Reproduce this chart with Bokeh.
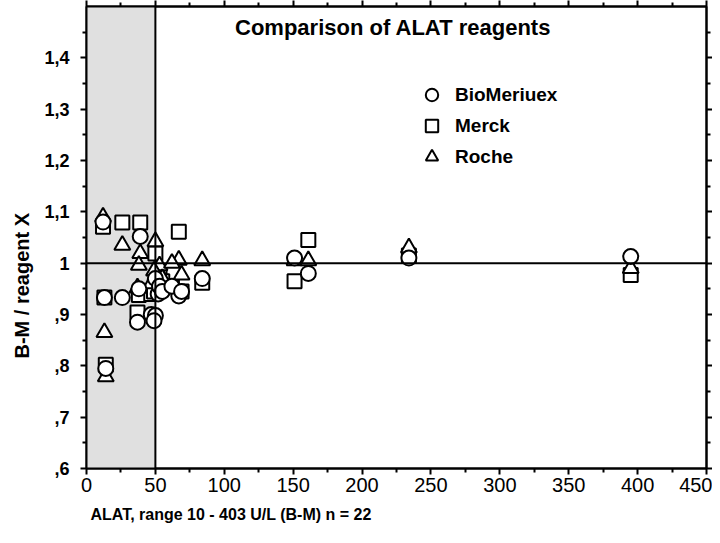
import math
from bokeh.plotting import figure
from bokeh.models import (ColumnDataSource, Range1d, LinearAxis, FixedTicker, Span,
                          BoxAnnotation, Label, Legend, LegendItem, Title)
from bokeh.embed import file_html
from bokeh.resources import INLINE

# ---- data ----
ALAT = [12, 13, 14, 26, 39, 37, 38, 50, 47, 50, 52, 53, 49, 55, 67, 62, 69, 84, 151, 161, 234, 395]
BIOMERIEUX = [1.080, 0.933, 0.795, 0.933, 1.052, 0.885, 0.950, 0.970, 0.900, 0.898, 0.940, 0.955,
              0.888, 0.945, 0.936, 0.955, 0.945, 0.970, 1.010, 0.980, 1.010, 1.013]
MERCK = [1.071, 0.933, 0.802, 1.079, 1.079, 0.904, 0.938, 1.019, 0.940, 0.950, 0.960, 0.975,
         0.945, 0.965, 1.061, 0.955, 0.945, 0.962, 0.965, 1.045, 1.015, 0.977]
ROCHE = [1.090, 0.865, 0.779, 1.035, 1.019, 0.952, 0.996, 1.042, 0.960, 0.975, 0.985, 0.995,
         0.985, 0.970, 1.006, 1.000, 0.977, 1.005, 1.005, 1.005, 1.030, 0.990]

SERIES_NAMES = ["BioMeriuex", "Merck", "Roche"]
X_TICKS = [0, 50, 100, 150, 200, 250, 300, 350, 400, 450]
Y_TICKS = [0.6, 0.7, 0.8, 0.9, 1.0, 1.1, 1.2, 1.3, 1.4]
Y_TICK_LABELS = [",6", ",7", ",8", ",9", "1", "1,1", "1,2", "1,3", "1,4"]
REFERENCE_RATIO = 1.0
LOW_RANGE_LIMIT = 50
TITLE = "Comparison of ALAT reagents"
X_TITLE = "ALAT, range 10 - 403 U/L (B-M) n = 22"
Y_TITLE = "B-M / reagent X"

FONT = "Liberation Sans"

src = ColumnDataSource(dict(alat=ALAT, bio=BIOMERIEUX, merck=MERCK, roche=ROCHE))

p = figure(width=712, height=535, output_backend="svg", toolbar_location=None,
           x_range=Range1d(0, 450), y_range=Range1d(0.6, 1.5),
           min_border_left=86, min_border_right=6, min_border_top=6, min_border_bottom=67,
           x_axis_location=None, y_axis_location=None)
p.xgrid.visible = False
p.ygrid.visible = False
p.outline_line_color = "black"
p.outline_line_width = 2
p.background_fill_color = "white"
p.border_fill_color = "white"

x_minor = [X_TICKS[i] + (X_TICKS[i + 1] - X_TICKS[i]) / 2 for i in range(len(X_TICKS) - 1)]
y_minor = [round(Y_TICKS[i] + (Y_TICKS[i + 1] - Y_TICKS[i]) / 2, 3) for i in range(len(Y_TICKS) - 1)]
y_minor = y_minor + [1.45]


def style_axis(ax, label_size, bold):
    ax.axis_line_color = "black"
    ax.axis_line_width = 2
    ax.major_tick_line_color = "black"
    ax.major_tick_line_width = 2
    ax.minor_tick_line_color = "black"
    ax.minor_tick_line_width = 2
    ax.major_tick_out = 6
    ax.major_tick_in = 0
    ax.minor_tick_out = 4
    ax.minor_tick_in = 0
    ax.major_label_text_font = FONT
    ax.major_label_text_font_size = label_size
    ax.major_label_text_font_style = "bold" if bold else "normal"
    ax.major_label_text_color = "black"


xb = LinearAxis(ticker=FixedTicker(ticks=X_TICKS, minor_ticks=x_minor))
style_axis(xb, "20px", False)
xb.major_label_standoff = 3
p.add_layout(xb, "below")

xt = LinearAxis(ticker=FixedTicker(ticks=X_TICKS, minor_ticks=x_minor))
style_axis(xt, "20px", False)
xt.major_label_overrides = {t: "" for t in X_TICKS}
xt.major_label_standoff = 0
p.add_layout(xt, "above")

yl = LinearAxis(ticker=FixedTicker(ticks=Y_TICKS, minor_ticks=y_minor))
style_axis(yl, "18px", True)
yl.major_label_overrides = dict(zip(Y_TICKS, Y_TICK_LABELS))
yl.major_label_standoff = 11
p.add_layout(yl, "left")

yr = LinearAxis(ticker=FixedTicker(ticks=Y_TICKS, minor_ticks=y_minor))
style_axis(yr, "18px", True)
yr.major_label_overrides = {t: "" for t in Y_TICKS}
yr.major_label_standoff = 0
p.add_layout(yr, "right")

# shaded low range
p.add_layout(BoxAnnotation(left=0, right=LOW_RANGE_LIMIT, fill_color="#e0e0e0", fill_alpha=1.0,
                           line_color=None, level="underlay"))

r_sq = p.scatter(x="alat", y="merck", source=src, marker="square", size=14,
                 line_color="black", line_width=2, fill_color="white")
r_tr = p.scatter(x="alat", y="roche", source=src, marker="triangle", size=16,
                 line_color="black", line_width=2, fill_color="white")
r_ci = p.scatter(x="alat", y="bio", source=src, marker="circle", size=15,
                 line_color="black", line_width=2, fill_color="white")

p.add_layout(Span(location=LOW_RANGE_LIMIT, dimension="height", line_color="black", line_width=2))
p.add_layout(Span(location=REFERENCE_RATIO, dimension="width", line_color="black", line_width=2))

legend = Legend(items=[LegendItem(label=SERIES_NAMES[0], renderers=[r_ci]),
                       LegendItem(label=SERIES_NAMES[1], renderers=[r_sq]),
                       LegendItem(label=SERIES_NAMES[2], renderers=[r_tr])],
                location=(330, 296), glyph_width=31, glyph_height=31, spacing=0,
                padding=0, margin=0, border_line_color=None, background_fill_alpha=0,
                label_text_font=FONT, label_text_font_style="bold", label_text_font_size="19px",
                label_text_color="black", label_standoff=8, label_height=31)
p.add_layout(legend)

p.add_layout(Label(x=107.8, y=1.46, text=TITLE, text_font=FONT, text_font_style="bold",
                   text_font_size="22px", text_color="black",
                   text_baseline="middle", text_align="left"))

p.add_layout(Title(text=X_TITLE, align="left", offset=4, standoff=18,
                   text_font=FONT, text_font_style="bold", text_font_size="16px",
                   text_color="black"), "below")
p.add_layout(Title(text=Y_TITLE, align="left", offset=110, standoff=17,
                   text_font=FONT, text_font_style="bold", text_font_size="20px",
                   text_color="black"), "left")

open("out.html", "w").write(file_html(p, INLINE))
